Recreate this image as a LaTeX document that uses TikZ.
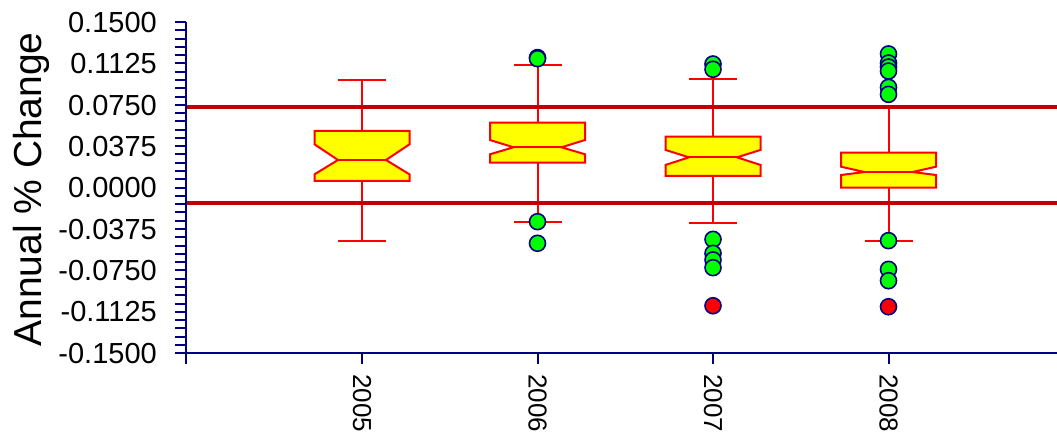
\documentclass[tikz,border=0pt]{standalone}
\usepackage{fontspec}
\setmainfont{Liberation Sans}
\usepackage{tikz}
\usetikzlibrary{positioning}
\definecolor{axiscolor}{RGB}{0, 0, 128}
\definecolor{limitcolor}{RGB}{192, 0, 0}
\definecolor{boxcolor}{RGB}{255, 255, 0}
\definecolor{outliercolor}{RGB}{0, 255, 0}

% notched box: x, low whisker, q1, notch low, median, notch high, q3, high whisker
\newcommand{\notchbox}[8]{%
    \draw[whisker] (#1,#2) -- (#1,#8);
    \draw[whisker] (#1-24,#2) -- (#1+24,#2) (#1-24,#8) -- (#1+24,#8);
    \draw[notched] (#1-47.5,#3) -- (#1+47.5,#3) -- (#1+47.5,#4) -- (#1+24,#5) -- (#1+47.5,#6)
        -- (#1+47.5,#7) -- (#1-47.5,#7) -- (#1-47.5,#6) -- (#1-24,#5) -- (#1-47.5,#4) -- cycle;
    \draw[whisker] (#1-24,#5) -- (#1+24,#5);
}

\begin{document}
\begin{tikzpicture}[
    x=1pt, y=1pt,
    axisline/.style={draw=axiscolor, line width=2pt},
    ticklabel/.style={anchor=east, inner sep=0pt, font=\fontsize{29}{32}\selectfont},
    yearlabel/.style={rotate=-90, anchor=west, inner sep=0pt, font=\fontsize{26}{29}\selectfont},
    whisker/.style={draw=red, line width=2pt},
    notched/.style={draw=red, fill=boxcolor, line width=2pt},
    limit/.style={draw=limitcolor, line width=4pt},
    outlier/.style={circle, draw=axiscolor, fill=outliercolor, line width=1.6pt, minimum size=16pt, inner sep=0pt},
    extreme/.style={outlier, fill=red}
]
    \useasboundingbox (0,0) rectangle (1057,433);

    % Axis title
    \node[rotate=90, anchor=base, font=\fontsize{39}{42}\selectfont] (ytitle) at (42,243.5) {Annual \% Change};

    \begin{scope}[yshift=245.2pt, y=1103.3pt]
    % Boxes
    \notchbox{362}{-0.0480}{0.0062}{0.0122}{0.0252}{0.0394}{0.0515}{0.0977}
    \notchbox{537.5}{-0.0307}{0.0227}{0.0304}{0.0367}{0.0433}{0.0590}{0.1113}
    \notchbox{713}{-0.0322}{0.0107}{0.0207}{0.0276}{0.0343}{0.0463}{0.0983}
    \notchbox{888.5}{-0.0479}{0.0001}{0.0116}{0.0143}{0.0191}{0.0318}{0.0735}

    % Limits
    \draw[limit] (186,0.0735) -- (1057,0.0735);
    \draw[limit] (186,-0.0135) -- (1057,-0.0135);

    % Outliers
    \foreach \v [count=\i] in {0.1180, 0.1170, -0.0307, -0.0503}
        \node[outlier] (outA\i) at (537.5,\v) {};
    \foreach \v [count=\i] in {0.1122, 0.1074, -0.0467, -0.0594, -0.0654, -0.0724}
        \node[outlier] (outB\i) at (713,\v) {};
    \node[extreme] (extB) at (713,-0.1069) {};
    \foreach \v [count=\i] in {0.1213, 0.1131, 0.1095, 0.1058, 0.0911, 0.0847, -0.0479, -0.0739, -0.0842}
        \node[outlier] (outC\i) at (888.5,\v) {};
    \node[extreme] (extC) at (888.5,-0.1078) {};

    % Axes
    \draw[axisline] (186,-0.1596) -- (186,0.15);
    \draw[axisline] (186,-0.15) -- (1057,-0.15);
    \foreach \t in {0,...,40}
        \draw[axisline] (175,{-0.15+0.0075*\t}) -- (186,{-0.15+0.0075*\t});
    \foreach \x in {362, 537.5, 713, 888.5}
        \draw[axisline] (\x,-0.15) -- (\x,-0.1596);

    % Labels
    \foreach \v [count=\i] in {0.1500, 0.1125, 0.0750, 0.0375, 0.0000, -0.0375, -0.0750, -0.1125, -0.1500}
        \node[ticklabel] (ylab\i) at (157,\v) {\v};
    \foreach \x/\yr in {362/2005, 537.5/2006, 713/2007, 888.5/2008}
        \node[yearlabel] (year\yr) at (\x,-0.1688) {\yr};
    \end{scope}
\end{tikzpicture}
\end{document}
